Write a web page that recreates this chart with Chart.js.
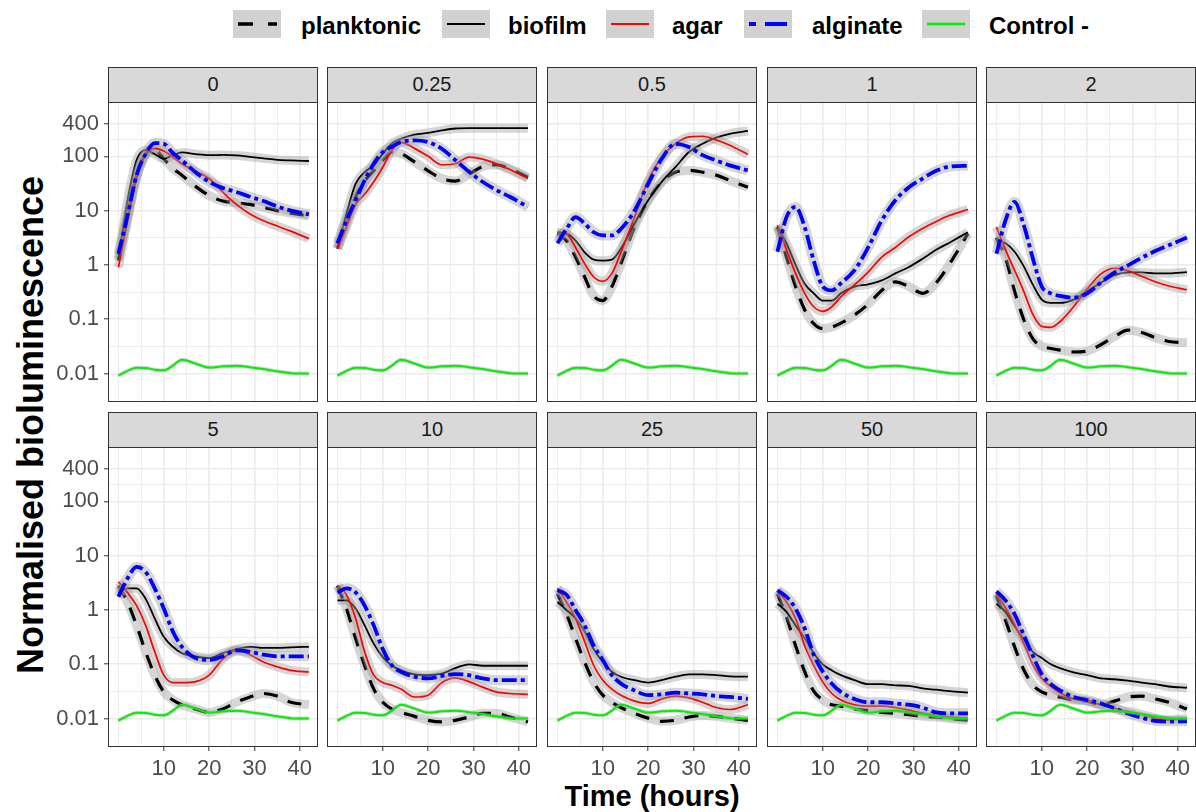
<!DOCTYPE html>
<html>
<head>
<meta charset="utf-8">
<script src="https://cdn.jsdelivr.net/npm/chart.js@4.4.0/dist/chart.umd.min.js"></script>
<style>
  body { margin: 0; background: #fff; width: 1196px; height: 812px; position: relative; overflow: hidden;
         font-family: "Liberation Sans", Arial, sans-serif; }
  .pane { position: absolute; }
  .strip { position: absolute; box-sizing: border-box; height: 36px; background: #d9d9d9; border: 1px solid #333;
           text-align: center; line-height: 33px; font-size: 20px; color: #1a1a1a; }
  .key { position: absolute; top: 10px; width: 48px; height: 28px; background: #d1d1d1; }
  .key svg { display: block; }
  .lab { position: absolute; top: 12px; line-height: 28px; font-size: 24px; font-weight: bold; color: #000; white-space: nowrap; }
  #ytitle { position: absolute; left: 31px; top: 425px; width: 600px; margin-left: -300px; margin-top: -18px;
            height: 36px; line-height: 36px; text-align: center; font-size: 36px; font-weight: bold;
            transform: rotate(-90deg); white-space: nowrap; }
  #xtitle { position: absolute; left: 452px; width: 400px; top: 782px; line-height: 29px; text-align: center;
            font-size: 29px; font-weight: bold; white-space: nowrap; }
</style>
</head>
<body>

<div class="key" style="left:233px"><svg width="48" height="28"><line x1="5" y1="14" x2="44" y2="14" stroke="#000" stroke-width="3.3" stroke-dasharray="15 15"/></svg></div>
<div class="lab" style="left:301px">planktonic</div>
<div class="key" style="left:442px"><svg width="48" height="28"><line x1="5" y1="14" x2="43" y2="14" stroke="#000" stroke-width="2"/></svg></div>
<div class="lab" style="left:508px">biofilm</div>
<div class="key" style="left:606px"><svg width="48" height="28"><line x1="5" y1="14" x2="43" y2="14" stroke="#f00" stroke-width="2"/></svg></div>
<div class="lab" style="left:672px">agar</div>
<div class="key" style="left:744px"><svg width="48" height="28"><line x1="5" y1="14" x2="43" y2="14" stroke="#00f" stroke-width="4" stroke-dasharray="7 9 22 9"/></svg></div>
<div class="lab" style="left:812px">alginate</div>
<div class="key" style="left:922px"><svg width="48" height="28"><line x1="5" y1="14" x2="43" y2="14" stroke="#00f000" stroke-width="2.5"/></svg></div>
<div class="lab" style="left:989px">Control -</div>

<div id="ytitle">Normalised bioluminescence</div>
<div id="xtitle">Time (hours)</div>

<script>
// time points (hours) shared by every curve
const times = [0, 2, 4, 6, 8, 10, 12, 14, 17, 20, 23, 26, 29, 32, 35, 38, 42];

// one facet per dose
const doses = ['0', '0.25', '0.5', '1', '2', '5', '10', '25', '50', '100'];

// one row per dose, same order as doses
const planktonic = [
  [1.2, 8, 45, 110, 130, 90, 60, 45, 28, 19, 15, 14, 13, 11.5, 10, 9, 8],
  [2, 6, 18, 35, 55, 85, 120, 112, 79, 54, 39, 35, 47, 65, 70, 59, 41],
  [3.8, 2.8, 1.4, 0.6, 0.27, 0.22, 0.4, 1.06, 5, 15.5, 34, 51, 55, 51, 45, 36, 27],
  [5, 1.4, 0.4, 0.15, 0.083, 0.067, 0.072, 0.085, 0.12, 0.19, 0.34, 0.49, 0.4, 0.3, 0.47, 1.06, 3.8],
  [3.2, 1.35, 0.33, 0.1, 0.044, 0.032, 0.029, 0.027, 0.025, 0.026, 0.034, 0.048, 0.063, 0.057, 0.046, 0.039, 0.037],
  [2.8, 1.4, 0.52, 0.17, 0.063, 0.031, 0.022, 0.018, 0.015, 0.013, 0.015, 0.02, 0.025, 0.029, 0.026, 0.02, 0.018],
  [2.8, 1.06, 0.3, 0.095, 0.035, 0.02, 0.015, 0.013, 0.011, 0.0093, 0.0087, 0.0093, 0.0107, 0.0125, 0.0125, 0.0107, 0.0087],
  [2.0, 0.85, 0.3, 0.11, 0.047, 0.027, 0.02, 0.016, 0.0125, 0.0102, 0.0089, 0.0093, 0.0107, 0.0114, 0.011, 0.0102, 0.0093],
  [2.0, 0.74, 0.22, 0.073, 0.032, 0.022, 0.018, 0.017, 0.015, 0.014, 0.013, 0.0125, 0.0118, 0.011, 0.0107, 0.01, 0.0093],
  [1.85, 0.65, 0.21, 0.08, 0.042, 0.031, 0.027, 0.025, 0.022, 0.021, 0.018, 0.021, 0.025, 0.026, 0.023, 0.02, 0.015]
];
const biofilm = [
  [1.3, 15, 85, 130, 110, 90, 105, 118, 110, 105, 106, 104, 98, 92, 86, 84, 82],
  [2, 8.7, 31, 51, 68, 112, 171, 210, 250, 270, 300, 325, 330, 330, 330, 330, 330],
  [4, 3.8, 2.8, 1.7, 1.25, 1.2, 1.25, 2, 5.8, 15.5, 34, 63, 120, 170, 220, 260, 293],
  [5, 2.5, 1.0, 0.45, 0.3, 0.22, 0.22, 0.3, 0.4, 0.44, 0.52, 0.7, 0.92, 1.3, 1.9, 2.6, 4.0],
  [2.9, 2.5, 1.75, 0.95, 0.44, 0.23, 0.2, 0.2, 0.23, 0.33, 0.47, 0.65, 0.73, 0.73, 0.7, 0.7, 0.74],
  [2.1, 2.5, 2.5, 1.6, 0.7, 0.32, 0.21, 0.16, 0.14, 0.13, 0.16, 0.19, 0.21, 0.2, 0.2, 0.205, 0.21],
  [1.5, 1.5, 1.06, 0.52, 0.24, 0.135, 0.095, 0.077, 0.065, 0.063, 0.067, 0.085, 0.1, 0.094, 0.094, 0.094, 0.094],
  [1.4, 1.0, 0.7, 0.4, 0.19, 0.11, 0.073, 0.059, 0.051, 0.046, 0.051, 0.059, 0.065, 0.065, 0.063, 0.06, 0.059],
  [1.3, 0.92, 0.52, 0.3, 0.16, 0.1, 0.077, 0.063, 0.051, 0.043, 0.043, 0.041, 0.04, 0.036, 0.034, 0.032, 0.03],
  [1.3, 0.92, 0.5, 0.29, 0.17, 0.13, 0.1, 0.085, 0.071, 0.063, 0.055, 0.053, 0.05, 0.046, 0.043, 0.039, 0.037]
];
const agar = [
  [0.9, 6.5, 40, 110, 140, 125, 97, 73, 53, 39, 22, 13, 8.7, 6.5, 5.2, 4.2, 3.05],
  [2, 5, 13, 20, 34, 63, 130, 180, 140, 100, 70, 73, 97, 89, 73, 57, 39],
  [3.8, 3.7, 2.1, 1.06, 0.6, 0.5, 0.7, 1.7, 7.6, 36, 97, 170, 228, 234, 200, 160, 108],
  [5.4, 1.9, 0.7, 0.3, 0.17, 0.14, 0.17, 0.26, 0.43, 0.74, 1.4, 2.1, 3.3, 4.7, 6.3, 8.2, 10.5],
  [5, 1.9, 0.8, 0.33, 0.125, 0.074, 0.071, 0.09, 0.17, 0.36, 0.68, 0.87, 0.78, 0.62, 0.49, 0.41, 0.35],
  [3.3, 2.1, 1.2, 0.52, 0.17, 0.063, 0.046, 0.046, 0.048, 0.063, 0.125, 0.18, 0.15, 0.11, 0.09, 0.077, 0.072],
  [2.8, 1.9, 0.7, 0.17, 0.063, 0.046, 0.041, 0.035, 0.025, 0.027, 0.046, 0.056, 0.048, 0.038, 0.031, 0.029, 0.028],
  [2.5, 1.4, 0.7, 0.26, 0.095, 0.051, 0.035, 0.027, 0.021, 0.019, 0.023, 0.026, 0.024, 0.02, 0.016, 0.0147, 0.018],
  [2.3, 1.4, 0.7, 0.22, 0.095, 0.047, 0.029, 0.022, 0.018, 0.017, 0.017, 0.016, 0.0143, 0.0125, 0.0115, 0.0107, 0.0102],
  [2.0, 1.1, 0.54, 0.245, 0.1, 0.055, 0.039, 0.03, 0.023, 0.021, 0.018, 0.0155, 0.0135, 0.012, 0.0103, 0.0095, 0.01]
];
const alginate = [
  [1.6, 8, 45, 110, 175, 170, 115, 84, 51, 34, 26, 22, 18, 15, 12, 10, 8.5],
  [2.5, 6.6, 15.5, 36, 73, 120, 150, 183, 197, 183, 138, 85, 52, 34, 24, 18, 11.7],
  [2.5, 4.6, 7.6, 5.8, 4, 3.5, 3.5, 4.6, 10, 31, 90, 170, 148, 105, 84, 68, 55],
  [1.75, 7.6, 11.7, 5, 1.2, 0.4, 0.34, 0.46, 0.8, 2.1, 6.6, 15.5, 27, 39, 54, 65, 67],
  [1.6, 6.6, 14.5, 5.5, 1.35, 0.4, 0.3, 0.27, 0.25, 0.3, 0.47, 0.72, 0.98, 1.35, 1.8, 2.3, 3.2],
  [1.75, 3.8, 6.2, 5, 2.5, 1.06, 0.4, 0.21, 0.13, 0.12, 0.14, 0.18, 0.17, 0.15, 0.14, 0.14, 0.14],
  [2.1, 2.5, 2.1, 1.2, 0.52, 0.19, 0.095, 0.073, 0.059, 0.055, 0.061, 0.066, 0.063, 0.055, 0.051, 0.051, 0.051],
  [2.3, 1.9, 1.0, 0.52, 0.22, 0.12, 0.063, 0.044, 0.033, 0.027, 0.028, 0.03, 0.029, 0.028, 0.026, 0.025, 0.023],
  [2.3, 1.75, 1.06, 0.46, 0.15, 0.073, 0.044, 0.031, 0.023, 0.02, 0.02, 0.019, 0.018, 0.016, 0.013, 0.0125, 0.0125],
  [2.2, 1.5, 0.84, 0.35, 0.145, 0.066, 0.043, 0.033, 0.025, 0.022, 0.019, 0.0155, 0.0125, 0.0104, 0.0091, 0.0089, 0.0089]
];
// the control curve is the same in every facet
const control = [0.0092, 0.0112, 0.0128, 0.0127, 0.0118, 0.0115, 0.014, 0.018, 0.0153, 0.0129, 0.0136, 0.014, 0.0131, 0.0122, 0.011, 0.0102, 0.01];

// axis breaks
const yLabels = [0.01, 0.1, 1, 10, 100, 400];
const yMinor = [0.0316, 0.316, 3.16, 31.6, 200];
const xLabels = [10, 20, 30, 40];
const xMinor = [0, 5, 15, 25, 35];

// layout of the facet grid (px)
const panelLeft = [108, 327, 547, 767, 986];
const panelTop = [102, 447];
const PW = 210, PH = 300, YW = 62, XH = 46;
const ribbon = 'rgba(153,153,153,0.4)';

Chart.defaults.font.family = '"Liberation Sans", Arial, sans-serif';

const frame = {
  id: 'frame',
  afterDraw(chart) {
    const a = chart.chartArea, g = chart.ctx;
    g.save();
    g.strokeStyle = '#333';
    g.lineWidth = 1;
    g.strokeRect(a.left + 0.5, a.top + 0.5, a.width - 1, a.height - 1);
    g.restore();
  }
};

const near = (list, v) => list.some(u => Math.abs(u - v) < 1e-9 * Math.max(1, u));

function makePanel(p) {
  const row = Math.floor(p / 5), col = p % 5;
  const first = col === 0, bottom = row === 1;

  const strip = document.createElement('div');
  strip.className = 'strip';
  strip.style.left = panelLeft[col] + 'px';
  strip.style.top = (panelTop[row] - 35) + 'px';
  strip.style.width = PW + 'px';
  strip.textContent = doses[p];
  document.body.appendChild(strip);

  const w = PW + (first ? YW : 0), h = PH + (bottom ? XH : 0);
  const box = document.createElement('div');
  box.className = 'pane';
  box.style.left = (panelLeft[col] - (first ? YW : 0)) + 'px';
  box.style.top = panelTop[row] + 'px';
  const cv = document.createElement('canvas');
  cv.width = w; cv.height = h;
  cv.style.width = w + 'px'; cv.style.height = h + 'px';
  box.appendChild(cv);
  document.body.appendChild(box);

  const groups = [
    { values: planktonic[p], color: '#000000', width: 3.2, dash: [14, 11], band: 9 },
    { values: biofilm[p], color: '#000000', width: 1.8, dash: [], band: 9 },
    { values: agar[p], color: '#ff0000', width: 1.7, dash: [], band: 9 },
    { values: alginate[p], color: '#0000ff', width: 3.8, dash: [15, 4, 4, 4], band: 10 },
    { values: control, color: '#00f000', width: 2, dash: [], band: 4 }
  ];

  const datasets = [];
  let order = 100;
  groups.forEach(g => {
    const pts = times.map((t, k) => ({ x: t, y: g.values[k] }));
    const common = { data: pts, pointRadius: 0, fill: false, clip: 0, cubicInterpolationMode: 'monotone',
                     borderCapStyle: 'butt', borderJoinStyle: 'round' };
    datasets.push(Object.assign({}, common, { borderColor: ribbon, borderWidth: g.band, order: order-- }));
    datasets.push(Object.assign({}, common, { borderColor: g.color, borderWidth: g.width, borderDash: g.dash, order: order-- }));
  });

  new Chart(cv, {
    type: 'line',
    data: { datasets },
    options: {
      responsive: false,
      animation: false,
      events: [],
      layout: { padding: 0 },
      plugins: { legend: { display: false }, tooltip: { enabled: false } },
      scales: {
        x: {
          type: 'linear', min: -2.3, max: 44,
          afterBuildTicks: s => { s.ticks = xMinor.concat(xLabels).sort((a, b) => a - b).map(v => ({ value: v })); },
          afterFit: s => { s.height = bottom ? XH : 0; s.paddingLeft = 0; s.paddingRight = 0; },
          border: { display: false },
          grid: {
            color: '#ebebeb',
            lineWidth: c => (c.tick && near(xLabels, c.tick.value)) ? 1.6 : 0.9,
            drawTicks: bottom, tickLength: 4, tickWidth: 1,
            tickColor: c => (c.tick && near(xLabels, c.tick.value)) ? '#333333' : 'rgba(0,0,0,0)'
          },
          ticks: {
            display: bottom, autoSkip: false, maxRotation: 0, padding: 5, color: '#4d4d4d', font: { size: 22 },
            callback: v => near(xLabels, v) ? String(v) : ''
          }
        },
        y: {
          type: 'logarithmic', min: 0.003, max: 1000,
          afterBuildTicks: s => { s.ticks = yMinor.concat(yLabels).sort((a, b) => a - b).map(v => ({ value: v })); },
          afterFit: s => { s.width = first ? YW : 0; s.paddingTop = 0; s.paddingBottom = 0; },
          border: { display: false },
          grid: {
            color: '#ebebeb',
            lineWidth: c => (c.tick && near(yLabels, c.tick.value)) ? 1.6 : 0.9,
            drawTicks: first, tickLength: 4, tickWidth: 1,
            tickColor: c => (c.tick && near(yLabels, c.tick.value)) ? '#333333' : 'rgba(0,0,0,0)'
          },
          ticks: {
            display: first, autoSkip: false, padding: 5, color: '#4d4d4d', font: { size: 22 },
            callback: v => near(yLabels, v) ? String(v) : ''
          }
        }
      }
    },
    plugins: [frame]
  });
}

doses.forEach((d, p) => makePanel(p));
</script>
</body>
</html>
